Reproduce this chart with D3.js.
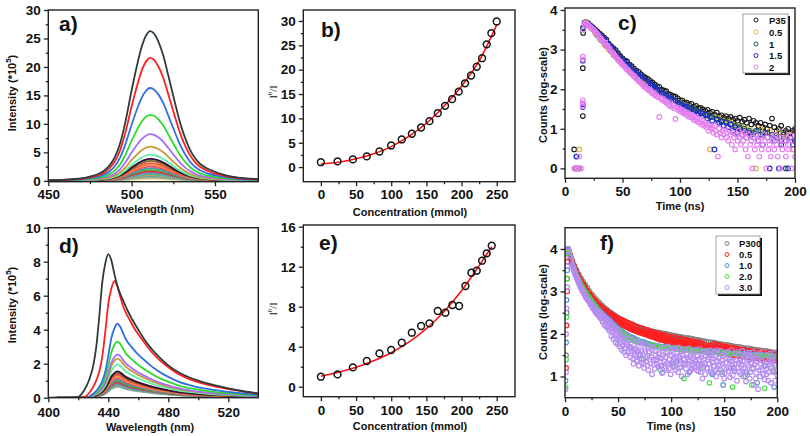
<!DOCTYPE html>
<html><head><meta charset="utf-8">
<script src="https://cdn.jsdelivr.net/npm/d3@7"></script>
<style>
body{margin:0;background:#fff}
svg{display:block}
text{font-family:"Liberation Sans",Arial,sans-serif;font-weight:bold;fill:#111}
</style>
</head><body>
<svg id="fig" width="810" height="436"></svg>
<script>
// ---------------- DATA ----------------
// panel a: emission spectra (x10^5)
const aWl  = [450,460,465,470,475,480,484,487,490,493,496,500,503,506,509,511,513,516,519,522,525,529,532,535,538,541,545,550,555,561,568,576];
const aTop = [0.1,0.2,0.3,0.45,0.75,1.2,1.9,2.8,4.2,6.5,10.0,15.9,20.0,23.5,25.7,26.3,26.0,24.5,22.0,18.5,14.9,10.3,7.6,5.5,4.0,3.0,2.2,1.6,1.1,0.7,0.45,0.3];
const aPeaks = [26.3,21.6,16.3,11.6,8.2,6.0,4.6,3.85,3.5,3.1,2.8,2.5,2.2,1.9,1.65,1.4,1.2,1.0,0.8,0.55,0.3];
// panel d: emission spectra (x10^5)
const dWl  = [400,415,420,424,427,430,432,434,436,438,440,442,444,446,448,450,453,456,460,465,470,475,480,490,500,510,520,530,540];
const dTop = [0,0.01,0.05,0.45,1.0,1.9,3.0,4.8,6.8,7.9,8.45,8.1,7.3,6.6,6.1,5.7,5.1,4.6,4.0,3.3,2.75,2.3,1.9,1.35,1.0,0.75,0.55,0.38,0.25];
const dPeaks = [8.45,6.85,4.35,3.3,2.55,2.3,1.95,1.55,1.45,1.35,1.25,1.15,1.05,0.97,0.9,0.82,0.75,0.7,0.65];
const dShift = [0,4,6,6,6,6,6,6,6,6,6,6,6,6,6,6,6,6,6];
const specColors = ["#2d3b3b","#ff1f1f","#2f6fe0","#2bdc2b","#a86bff","#c49a3a","#5ef0a0","#3a0838","#7a6a20","#ff5050","#ff9040","#e0507a","#3aa0a0","#6a9a40","#d03030","#8080d0","#40c080","#c0a060","#60a0c0","#b0b070","#e8e0a0"];

// panel b: I0/I vs concentration
const bConc = [0,23.7,45.5,65.3,83.3,99.9,115,129.3,142.5,154.4,166.2,176.6,186.6,196,205,213.6,221.6,229.2,235.8,242.4,250];
const bVal  = [1.0,1.16,1.57,2.19,3.2,4.44,5.67,6.84,8.13,9.43,11.07,12.58,13.94,15.5,17.2,18.8,20.6,22.35,25.2,27.5,29.9];
const bFitX = [0,25,50,75,100,125,150,175,200,225,250];
const bFitY = [0.65,1.0,1.7,2.75,4.2,6.3,9.0,12.5,16.6,21.8,29.2];
// panel e
const eConc = [0,23.7,45.5,65.3,83.3,99.9,115,129.3,142.5,154.4,166.2,177,187,196.5,205.5,214,221.6,229.2,235.8,242.9];
const eVal  = [1.0,1.23,1.93,2.57,3.33,3.67,4.4,5.4,6.07,6.33,7.57,7.4,8.17,8.07,10.07,11.4,11.6,12.6,13.33,14.1];
const eFitX = [0,25,50,75,100,125,150,175,200,225,243];
const eFitY = [1.05,1.45,1.95,2.6,3.4,4.45,5.8,7.5,9.6,12.1,14.0];

// panel c: decay (log10 counts)
const cLabels = ["P35","0.5","1","1.5","2"];
const cColors = ["#1a1a1a","#e0b43c","#1b5e30","#1c2fc8","#e57ef0"];
const tC2 = d3.range(18,201,2), tC1 = d3.range(18,201,1), tC4a = d3.range(18,199,4), tC4b = d3.range(20,201,4);
const cBlack = [3.70,3.67,3.61,3.57,3.51,3.46,3.41,3.36,3.30,3.25, 3.15,3.09,3.04,2.99,2.91,2.84,2.78,2.73,2.70,2.63,
 2.58,2.52,2.47,2.44,2.38,2.33,2.29,2.26,2.21,2.17, 2.12,2.08,2.06,1.99,1.97,1.95,1.88,1.86,1.83,1.81,
 1.77,1.72,1.72,1.66,1.66,1.61,1.63,1.56,1.58,1.52, 1.53,1.49,1.45,1.48,1.41,1.43,1.36,1.41,1.32,1.34,
 1.28,1.32,1.26,1.30,1.23,1.26,1.20,1.28,1.18,1.23, 1.15,1.26,1.11,1.20,1.15,1.08,1.15,1.04,1.11,1.00,
 1.08,1.26,1.04,0.95,1.00,1.08,0.90,0.95,1.00,0.90, 0.95,1.00];
const cGold = [3.70,3.56,3.42,3.27,3.13,3.00,2.86,2.75,2.63,2.52, 2.43,2.33,2.24,2.15,2.07,1.99,1.92,1.86,1.79,1.73,
 1.68,1.62,1.57,1.50,1.46,1.41,1.36,0.48,1.30,1.26, 1.20,1.18,1.11,1.08,1.04,1.00,0.95,0.00,1.00,0.90, 0.95,0.85,0.90,0.78,0.85,0.48];
const cGreen = [3.66,3.52,3.37,3.23,3.09,2.96,2.83,2.72,2.60,2.50, 2.40,2.30,2.21,2.13,2.04,1.97,1.90,1.83,1.77,1.71,
 1.65,1.60,1.54,1.49,1.44,1.39,1.34,1.30,1.26,1.20, 1.18,1.11,1.08,1.04,1.00,0.95,0.90,0.95,0.85,0.90, 0.78,0.85,0.70,0.00,0.78,0.70];
const cBlue = [3.69,3.65,3.59,3.54,3.48,3.43,3.37,3.32,3.27,3.21, 3.13,3.06,3.00,2.94,2.87,2.80,2.74,2.68,2.63,2.58,
 2.53,2.47,2.42,2.37,2.32,2.28,2.22,2.18,2.14,2.09, 2.04,2.00,1.96,1.91,1.88,1.84,1.80,1.76,1.73,1.70,
 1.66,1.62,1.60,1.54,1.56,1.48,1.51,1.43,1.46,1.38, 1.41,1.32,1.36,1.26,1.30,1.20,0.48,1.23,1.15,1.18,
 1.08,1.15,1.04,1.11,0.95,1.04,0.90,1.00,0.85,0.95, 0.78,0.90,0.85,0.78,0.95,0.70,0.85,0.60,0.90,0.78,
 0.00,0.85,0.70,0.78,0.00,0.60,0.85,0.70,0.00,0.78, 0.60,0.70];
const cPink = [3.68,3.66,3.63,3.60,3.57,3.54,3.52,3.50,3.46,3.43, 3.40,3.36,3.31,3.29,3.25,3.21,3.18,3.16,3.11,3.08,
 3.05,3.01,2.96,2.93,2.91,2.86,2.82,2.80,2.75,2.72, 2.70,2.65,2.63,2.59,2.57,2.52,2.50,2.48,2.44,2.41,
 2.39,2.35,2.34,2.30,2.27,2.25,2.20,2.19,2.16,2.12, 2.12,2.06,2.08,2.02,2.01,1.97,1.99,1.93,1.90,1.92,
 1.85,1.87,1.82,1.80,1.30,1.78,1.74,1.77,1.70,1.72, 1.66,1.68,1.62,1.58,1.65,1.55,1.60,1.52,1.25,1.55,
 1.48,1.53,1.45,1.49,1.41,1.46,1.38,1.43,1.34,1.40, 1.30,1.36,1.28,1.34,1.23,1.30,1.20,1.26,1.18,1.15,
 1.23,1.11,1.20,1.08,1.15,1.04,1.11,0.95,1.08,1.00, 1.04,0.90,1.08,0.95,0.85,0.30,1.00,0.90,0.78,0.95,
 0.85,1.00,0.78,0.90,0.70,0.95,0.85,0.60,0.90,0.78, 0.48,0.85,0.70,0.95,0.78,0.60,0.85,0.70,0.90,0.48,
 0.78,0.30,0.85,0.60,0.70,0.00,0.78,0.48,0.85,0.60, 0.70,0.30,0.78,0.48,0.60,0.85,0.70,0.00,0.78,0.48,
 0.60,0.30,0.70,0.78,0.48,0.85,0.60,0.30,0.70,0.00, 0.78,0.48,0.60,0.70,0.30,0.78,0.48,0.60,0.85,0.00,
 0.70,0.48,0.30];
const cRise = [
 [[8,0.48],[12,0],[15.5,1.32],[15.5,2.53],[15.8,3.42],[17,3.68]],
 [[12.5,0.48],[10,0],[16,3.5]],
 [[10,0.3],[15.5,3.55]],
 [[10,0.3],[9,0],[15.5,1.55],[15.5,1.62],[15.5,2.72],[16,3.55]],
 [[8,0],[9.5,0],[11,0],[12.5,0],[14,0],[12.5,0.3],[15.5,1.57],[15.5,1.65],[15.5,1.72],[15.5,2.75],[15.5,2.82],[16,3.5],[17,3.65]]
];

// panel f: decay (log10 counts)
const fLabels = ["P300","0.5","1.0","2.0","3.0"];
const fColors = ["#7f7f7f","#ff2020","#4f8fe0","#3de03d","#b68cf0"];
const tF1 = d3.range(3,201,1), tF1h = d3.range(3.5,200,1), tF2a = d3.range(3,200,2), tF2b = d3.range(4,201,2);
const fGray = [4.00,3.86,3.72,3.60,3.50,3.40,3.31,3.23,3.16,3.09, 3.01,2.94,2.88,2.82,2.77,2.72,2.67,2.62,2.58,2.54,
 2.50,2.47,2.43,2.40,2.37,2.34,2.31,2.29,2.26,2.24, 2.22,2.20,2.18,2.16,2.14,2.13,2.11,2.10,2.08,2.07,
 2.06,2.05,2.04,2.03,2.02,2.01,2.00,1.99,1.98,1.97, 1.96,1.95,1.94,1.93,1.92,1.91,1.90,1.90,1.89,1.88,
 1.87,1.86,1.85,1.84,1.83,1.82,1.81,1.80,1.80,1.79, 1.78,1.77,1.76,1.75,1.75,1.74,1.73,1.72,1.71,1.70,
 1.69,1.69,1.68,1.67,1.66,1.66,1.65,1.64,1.63,1.62, 1.62,1.61,1.60,1.60,1.59,1.58,1.57,1.57,1.56];
const fRed = [4.00,3.92,3.84,3.76,3.68,3.61,3.55,3.49,3.44,3.39, 3.34,3.29,3.24,3.20,3.16,3.12,3.08,3.04,3.00,2.97,
 2.93,2.91,2.87,2.84,2.80,2.79,2.74,2.73,2.68,2.69, 2.63,2.65,2.58,2.60,2.53,2.56,2.48,2.53,2.45,2.49,
 2.41,2.46,2.38,2.43,2.34,2.40,2.31,2.37,2.28,2.35, 2.26,2.33,2.22,2.30,2.20,2.28,2.17,2.26,2.15,2.24,
 2.12,2.22,2.10,2.19,2.08,2.17,2.06,2.15,2.04,2.14, 2.02,2.12,2.00,2.10,1.98,2.09,1.96,2.07,1.94,2.05,
 1.93,2.04,1.91,2.02,1.89,2.01,1.87,1.99,1.86,1.98, 1.85,1.97,1.83,1.95,1.82,1.94,1.80,1.93,1.79,1.92,
 1.78,1.91,1.76,1.90,1.75,1.89,1.74,1.88,1.72,1.87, 1.71,1.86,1.70,1.85,1.69,1.84,1.67,1.83,1.66,1.82,
 1.65,1.81,1.64,1.80,1.62,1.79,1.61,1.77,1.60,1.74, 1.58,1.70,1.57,1.72,1.58,1.75,1.60,1.76,1.59,1.75,
 1.58,1.74,1.57,1.73,1.56,1.72,1.55,1.71,1.54,1.70, 1.53,1.69,1.52,1.68,1.51,1.67,1.50,1.66,1.50,1.65,
 1.49,1.64,1.48,1.63,1.47,1.63,1.46,1.62,1.46,1.61, 1.45,1.60,1.44,1.60,1.44,1.59,1.43,1.58,1.43,1.58,
 1.42,1.57,1.42,1.57,1.41,1.56,1.41,1.56,1.40,1.55, 1.40,1.55,1.40,1.54,1.39,1.54,1.39,1.53];
const fRed2 = [3.96,3.88,3.80,3.72,3.65,3.58,3.52,3.46,3.41,3.36, 3.31,3.27,3.22,3.18,3.14,3.10,3.06,3.02,2.98,2.95,
 2.92,2.88,2.86,2.81,2.79,2.76,2.74,2.70,2.68,2.64, 2.62,2.59,2.57,2.54,2.53,2.50,2.49,2.45,2.44,2.42,
 2.40,2.37,2.36,2.34,2.33,2.30,2.30,2.27,2.27,2.24, 2.24,2.21,2.21,2.18,2.19,2.16,2.17,2.13,2.15,2.11,
 2.13,2.09,2.11,2.07,2.10,2.05,2.08,2.03,2.06,2.02, 2.05,2.00,2.03,1.99,2.02,1.97,2.00,1.96,1.99,1.94,
 1.97,1.93,1.96,1.92,1.94,1.91,1.93,1.90,1.92,1.89, 1.90,1.88,1.89,1.87,1.88,1.85,1.87,1.84,1.86,1.83,
 1.84,1.82,1.83,1.81,1.82,1.80,1.81,1.79,1.80,1.78, 1.79,1.77,1.78,1.76,1.77,1.75,1.76,1.74,1.75,1.73,
 1.74,1.72,1.73,1.71,1.72,1.70,1.70,1.66,1.68,1.64, 1.65,1.62,1.66,1.64,1.68,1.66,1.69,1.67,1.68,1.66,
 1.67,1.65,1.66,1.64,1.65,1.63,1.64,1.62,1.63,1.61, 1.62,1.60,1.61,1.59,1.60,1.58,1.59,1.57,1.58,1.56,
 1.57,1.55,1.56,1.55,1.55,1.54,1.54,1.53,1.53,1.52, 1.52,1.52,1.51,1.51,1.50,1.50,1.50,1.49,1.49,1.49,
 1.48,1.48,1.48,1.47,1.47,1.47,1.46,1.46,1.46,1.45, 1.45,1.45,1.45,1.44,1.44,1.44,1.43];
const fBlue = [4.00,3.82,3.64,3.50,3.38,3.27,3.17,3.08,3.00,2.92, 2.86,2.79,2.72,2.66,2.60,2.54,2.49,2.44,2.39,2.35,
 2.30,2.25,2.20,2.15,2.11,2.07,2.03,2.00,1.97,1.94, 1.92,1.90,1.87,1.85,1.50,1.82,1.80,1.78,1.77,1.75,
 1.74,1.73,1.72,1.71,1.25,1.70,1.69,1.69,1.68,1.68, 1.67,1.35,1.66,1.65,1.64,1.64,1.63,1.10,1.63,1.62,
 1.62,1.61,1.61,1.30,1.60,1.60,1.59,1.59,1.05,1.58, 1.58,1.57,1.57,0.80,1.56,1.56,1.55,1.55,1.20,1.54,
 1.54,1.54,1.53,1.53,1.10,1.52,1.52,1.52,1.51,0.85, 1.51,1.50,1.50,1.25,1.50,1.49,1.49,0.75,1.48];
const fGreen = [3.95,3.74,3.57,3.44,3.32,3.22,3.12,3.04,2.96,2.88, 2.80,2.73,2.66,2.60,2.54,2.48,2.42,2.37,2.32,2.27,
 2.22,2.18,2.13,2.09,2.05,2.01,1.98,1.94,1.91,1.88, 1.86,1.84,1.82,1.80,1.78,1.40,1.76,1.75,1.74,1.73,
 1.72,1.71,1.70,1.15,1.69,1.68,1.68,1.67,1.67,1.30, 1.66,1.65,1.64,1.64,0.95,1.63,1.62,1.62,1.61,1.61,
 1.60,1.60,1.20,1.59,1.59,1.58,0.85,1.58,1.57,1.57, 1.56,1.56,1.10,1.55,1.55,1.54,1.54,0.75,1.53,1.53,
 1.53,1.52,1.52,1.00,1.51,1.51,0.80,1.50,1.50,1.50, 1.49,1.49,0.72,1.49,1.48,1.48,1.15,1.47,1.47];
const fPurple = [4.00,3.90,3.80,3.70,3.60,3.52,3.45,3.38,3.32,3.26, 3.20,3.14,3.09,3.04,2.99,2.95,2.90,2.86,2.82,2.78,
 2.76,2.70,2.70,2.62,2.64,2.55,2.58,2.48,2.53,2.42, 2.50,2.36,2.45,2.30,2.40,2.24,2.36,2.18,2.32,2.12,
 2.28,2.05,2.22,1.98,2.15,1.90,2.10,1.85,2.05,1.80, 2.00,1.72,1.95,1.66,1.90,1.75,1.98,1.60,1.85,1.68,
 1.88,1.42,1.72,1.50,1.85,1.35,1.62,1.48,1.78,1.40, 1.78,1.30,1.65,1.44,1.75,1.25,1.58,1.40,1.70,1.05,
 1.70,1.28,1.60,1.38,1.72,1.22,1.52,1.35,1.66,1.10, 1.68,1.20,1.55,1.32,1.70,1.18,1.50,1.30,1.62,1.25,
 1.66,1.15,1.48,1.35,1.68,1.20,1.58,1.00,1.52,1.28, 1.64,1.18,1.45,1.30,1.66,1.12,1.55,1.25,1.60,1.22,
 1.62,1.15,1.48,1.28,1.65,1.10,1.52,1.20,1.58,1.05, 1.60,1.18,1.45,1.30,1.62,1.08,1.50,1.22,1.58,1.15,
 1.62,1.10,1.42,1.25,1.60,1.05,1.48,0.95,1.55,1.18, 1.58,1.12,1.40,1.20,1.62,1.02,1.46,1.15,1.55,0.90,
 1.58,1.10,1.38,1.22,1.60,1.00,1.45,1.12,1.52,1.05, 1.56,0.95,1.40,1.18,1.58,0.80,1.44,1.08,1.50,0.70,
 1.55,1.00,1.38,1.15,1.58,0.92,1.42,1.05,1.50,1.10, 1.54,0.85,1.36,1.12,1.55,0.90,1.40,1.02];
const fPurple2 = [3.95,3.85,3.75,3.65,3.56,3.48,3.41,3.35,3.29,3.23, 3.17,3.11,3.06,3.01,2.97,2.92,2.88,2.84,2.80,2.77,
 2.73,2.68,2.66,2.60,2.58,2.52,2.50,2.46,2.44,2.40, 2.38,2.44,2.28,2.38,2.20,2.30,2.15,2.26,2.08,2.22,
 1.95,2.12,1.88,2.08,1.80,2.00,1.76,1.95,1.70,1.90, 1.62,1.85,1.58,1.80,1.50,1.76,1.55,1.70,1.45,1.66,
 1.60,1.30,1.55,1.66,1.38,1.58,1.25,1.52,1.62,1.33, 1.50,1.20,1.60,1.36,1.48,1.15,1.55,1.30,1.45,1.62,
 1.40,1.18,1.50,1.30,1.45,1.55,1.25,1.42,1.08,1.50, 1.36,1.45,1.15,1.58,1.28,1.40,1.05,1.48,1.35,1.22,
 1.42,1.30,1.55,1.10,1.38,1.45,1.22,1.50,1.32,1.40, 1.28,1.52,1.05,1.40,1.35,1.48,1.18,1.42,1.30,1.38,
 1.35,1.50,1.12,1.40,1.25,1.45,0.95,1.38,1.32,1.48, 1.20,1.40,1.30,1.52,1.10,1.35,1.42,1.25,1.48,1.00,
 1.35,1.28,1.45,1.15,1.38,1.30,1.50,1.08,1.32,1.42, 1.22,1.40,0.98,1.35,1.28,1.45,1.12,1.30,1.38,1.20,
 1.32,1.42,1.05,1.28,1.36,1.18,1.48,0.88,1.30,1.25, 1.38,1.10,1.32,1.45,1.20,1.28,0.95,1.35,1.22,1.40,
 1.15,1.30,1.38,1.05,1.26,1.42,1.18,1.32,0.90,1.28, 1.35,1.20,1.40,1.10,1.30,1.25,1.15];
const fRise = [
 [[1,1.5],[1.5,2.5],[2,3.3],[2.5,3.8]],
 [[1,1.2],[1.5,2.2],[2,3.0],[2.5,3.7]],
 [[0.5,0.9],[1,1.8],[1.5,2.8],[2,3.5]],
 [[0.5,0.75],[1,1.4],[1.5,2.4],[2,3.3],[2.5,3.9]],
 [[0.5,0.7],[1,1.1],[1,2.0],[1.5,2.6],[2,3.1],[2,3.6],[2.5,3.95]]
];

// tick values
const aXT=[450,500,550], aXM=[475,525], aYT=[0,5,10,15,20,25,30], aYM=[2.5,7.5,12.5,17.5,22.5,27.5];
const dXT=[400,440,480,520], dXM=[420,460,500], dYT=[0,2,4,6,8,10], dYM=[1,3,5,7,9];
const bXT=[0,50,100,150,200,250], bXM=[25,75,125,175,225], bYT=[0,5,10,15,20,25,30], bYM=[2.5,7.5,12.5,17.5,22.5,27.5];
const eYT=[0,4,8,12,16], eYM=[2,6,10,14];
const cXT=[0,50,100,150,200], cXM=[25,75,125,175], cYT=[0,1,2,3,4], cYM=[0.5,1.5,2.5,3.5];
const fYT=[1,2,3,4], fYM=[1.5,2.5,3.5];

// ---------------- DRAW ----------------
const svg = d3.select("#fig");

function makePanel(p){
  const x=d3.scaleLinear().domain(p.xd).range([p.l,p.r]);
  const y=d3.scaleLinear().domain(p.yd).range([p.b,p.t]);
  const id="clip_"+p.id;
  svg.append("clipPath").attr("id",id).append("rect")
    .attr("x",p.l).attr("y",p.t).attr("width",p.r-p.l).attr("height",p.b-p.t);
  const plot=svg.append("g").attr("clip-path",`url(#${id})`);
  return {x,y,plot,p};
}
function styleAxis(sel){
  sel.select(".domain").remove();
  sel.attr("font-family",null).attr("font-size",null);
  sel.selectAll("line").attr("stroke","#222").attr("stroke-width",1.3);
  sel.selectAll("text").style("font-size","13.5px").attr("fill","#111");
}
function finishPanel(P){
  const {x,y,p}=P;
  const g=svg.append("g");
  g.append("g").attr("transform",`translate(0,${p.b})`)
    .call(d3.axisBottom(x).tickValues(p.xm).tickSize(2.5).tickFormat("")).call(styleAxis);
  g.append("g").attr("transform",`translate(0,${p.b})`)
    .call(d3.axisBottom(x).tickValues(p.xt).tickSize(4.5).tickPadding(p.xpad||4.5).tickFormat(d3.format("~g"))).call(styleAxis);
  g.append("g").attr("transform",`translate(${p.l},0)`)
    .call(d3.axisLeft(y).tickValues(p.ym).tickSize(2.5).tickFormat("")).call(styleAxis);
  g.append("g").attr("transform",`translate(${p.l},0)`)
    .call(d3.axisLeft(y).tickValues(p.yt).tickSize(4.5).tickPadding(3).tickFormat(d3.format("~g"))).call(styleAxis);
  g.append("rect").attr("x",p.l).attr("y",p.t).attr("width",p.r-p.l).attr("height",p.b-p.t)
    .attr("fill","none").attr("stroke","#222").attr("stroke-width",1.4);
}
function xTitle(txt,cx,cy){ svg.append("text").attr("x",cx).attr("y",cy).attr("text-anchor","middle").attr("dominant-baseline","central").style("font-size","11px").text(txt); }
function yTitle(cx,cy){ return svg.append("text").attr("transform",`translate(${cx},${cy}) rotate(-90)`).attr("text-anchor","middle").attr("dominant-baseline","central").style("font-size","11px"); }
function panelLabel(txt,x,y){ svg.append("text").attr("x",x).attr("y",y).style("font-size","21px").text(txt); }

function spectra(P, wl, top, peaks, shifts){
  const maxTop=d3.max(top);
  const line=d3.line().x(d=>P.x(d[0])).y(d=>P.y(d[1])).curve(d3.curveMonotoneX);
  d3.range(peaks.length).reverse().forEach(i=>{
    const s=shifts?shifts[i]:0;
    const pts=wl.map((w,k)=>[w+s, top[k]*peaks[i]/maxTop]);
    P.plot.append("path").attr("d",line(pts)).attr("fill","none")
      .attr("stroke",specColors[i%specColors.length]).attr("stroke-width",1.8);
  });
}
function scatter(P, ts, vs, color, r){
  P.plot.append("g").selectAll("circle").data(d3.zip(ts,vs)).join("circle")
    .attr("cx",d=>P.x(d[0])).attr("cy",d=>P.y(d[1])).attr("r",r)
    .attr("fill","none").attr("stroke",color).attr("stroke-width",1.1);
}
function sv(P, xs, ys, fx, fy){
  const line=d3.line().x(d=>P.x(d[0])).y(d=>P.y(d[1])).curve(d3.curveMonotoneX);
  P.plot.append("path").attr("d",line(d3.zip(fx,fy))).attr("fill","none").attr("stroke","#ff1010").attr("stroke-width",1.6);
  P.plot.append("g").selectAll("circle").data(d3.zip(xs,ys)).join("circle")
    .attr("cx",d=>P.x(d[0])).attr("cy",d=>P.y(d[1])).attr("r",3.4)
    .attr("fill","none").attr("stroke","#111").attr("stroke-width",1.5);
}
function legend(x0,y0,w,h,labels,colors,mx,tx,ys){
  svg.append("rect").attr("x",x0+2).attr("y",y0+2).attr("width",w).attr("height",h).attr("fill","#111");
  svg.append("rect").attr("x",x0).attr("y",y0).attr("width",w).attr("height",h).attr("fill","#fff").attr("stroke","#888").attr("stroke-width",0.8);
  labels.forEach((l,i)=>{
    svg.append("circle").attr("cx",mx).attr("cy",ys[i]).attr("r",2).attr("fill","none").attr("stroke",colors[i]).attr("stroke-width",1);
    svg.append("text").attr("x",tx).attr("y",ys[i]).attr("dominant-baseline","central").style("font-size","9.5px").text(l);
  });
}
function ioLabel(cx,cy){
  const t=yTitle(cx,cy); t.style("font-family","'Liberation Serif',serif").style("font-weight","normal").style("font-size","10px");
  t.append("tspan").text("I"); t.append("tspan").attr("dy",-3).style("font-size","7px").text("0"); t.append("tspan").attr("dy",3).text("/I");
}

// ---- a
const A=makePanel({id:"a",l:48.3,r:258.3,t:10,b:181.7,xd:[450,576],yd:[-0.15,30],xt:aXT,xm:aXM,yt:aYT,ym:aYM,xpad:3.5});
spectra(A,aWl,aTop,aPeaks,null);
finishPanel(A);
xTitle("Wavelength (nm)",150,209);
{ const t=yTitle(12,93); t.append("tspan").text("Intensity (*10"); t.append("tspan").attr("dy",-4).style("font-size","8px").text("5"); t.append("tspan").attr("dy",4).text(")"); }
panelLabel("a)",59,31);

// ---- d
const D=makePanel({id:"d",l:48.3,r:258.3,t:227.7,b:397.7,xd:[400,540],yd:[0,10],xt:dXT,xm:dXM,yt:dYT,ym:dYM,xpad:5.5});
spectra(D,dWl,dTop,dPeaks,dShift);
finishPanel(D);
xTitle("Wavelength (nm)",150,427);
{ const t=yTitle(12,305); t.append("tspan").text("Intensity (*10"); t.append("tspan").attr("dy",-4).style("font-size","8px").text("5"); t.append("tspan").attr("dy",4).text(")"); }
panelLabel("d)",59,253);

// ---- b
const B=makePanel({id:"b",l:303.3,r:515,t:10,b:181.7,xd:[-25,276],yd:[-3,32.25],xt:bXT,xm:bXM,yt:bYT,ym:bYM,xpad:3.5});
sv(B,bConc,bVal,bFitX,bFitY);
finishPanel(B);
xTitle("Concentration (mmol)",410,212);
ioLabel(273,92);
panelLabel("b)",321,37);

// ---- e
const E=makePanel({id:"e",l:303.3,r:515,t:225,b:396.7,xd:[-25,276],yd:[-1,16.17],xt:bXT,xm:bXM,yt:eYT,ym:eYM});
sv(E,eConc,eVal,eFitX,eFitY);
finishPanel(E);
xTitle("Concentration (mmol)",410,426);
ioLabel(273,309);
panelLabel("e)",319,250);

// ---- c
const C=makePanel({id:"c",l:565,r:795,t:8,b:178.3,xd:[0,200],yd:[-0.25,4.05],xt:cXT,xm:cXM,yt:cYT,ym:cYM,xpad:4});
const cSeries=[[tC2,cBlack],[tC4a,cGold],[tC4b,cGreen],[tC2,cBlue],[tC1,cPink]];
cSeries.forEach((s,i)=>{ scatter(C,s[0],s[1],cColors[i],2.3); scatter(C,cRise[i].map(d=>d[0]),cRise[i].map(d=>d[1]),cColors[i],2.3); });
finishPanel(C);
xTitle("Time (ns)",680,206);
yTitle(543,95).text("Counts (log-scale)");
panelLabel("c)",618,30);
legend(743,14,45,59,cLabels,cColors,756,769,[20,32,44,55.5,67]);

// ---- f
const F=makePanel({id:"f",l:565,r:777.3,t:227.7,b:397.7,xd:[0,200],yd:[0.5,4.5],xt:cXT,xm:cXM,yt:fYT,ym:fYM});
const fSeries=[[tF2a,fGray,0],[tF1,fRed,1],[tF1h,fRed2,1],[tF2a,fBlue,2],[tF2b,fGreen,3],[tF1,fPurple,4],[tF1h,fPurple2,4]];
fSeries.forEach(s=>scatter(F,s[0],s[1],fColors[s[2]],2.3));
fRise.forEach((r,i)=>scatter(F,r.map(d=>d[0]),r.map(d=>d[1]),fColors[i],2.3));
finishPanel(F);
xTitle("Time (ns)",671,426);
yTitle(543,312).text("Counts (log-scale)");
panelLabel("f)",600,250);
legend(716,236,44,58,fLabels,fColors,727,739,[243.5,254.5,265.5,276.5,287.5]);
</script>
</body></html>
